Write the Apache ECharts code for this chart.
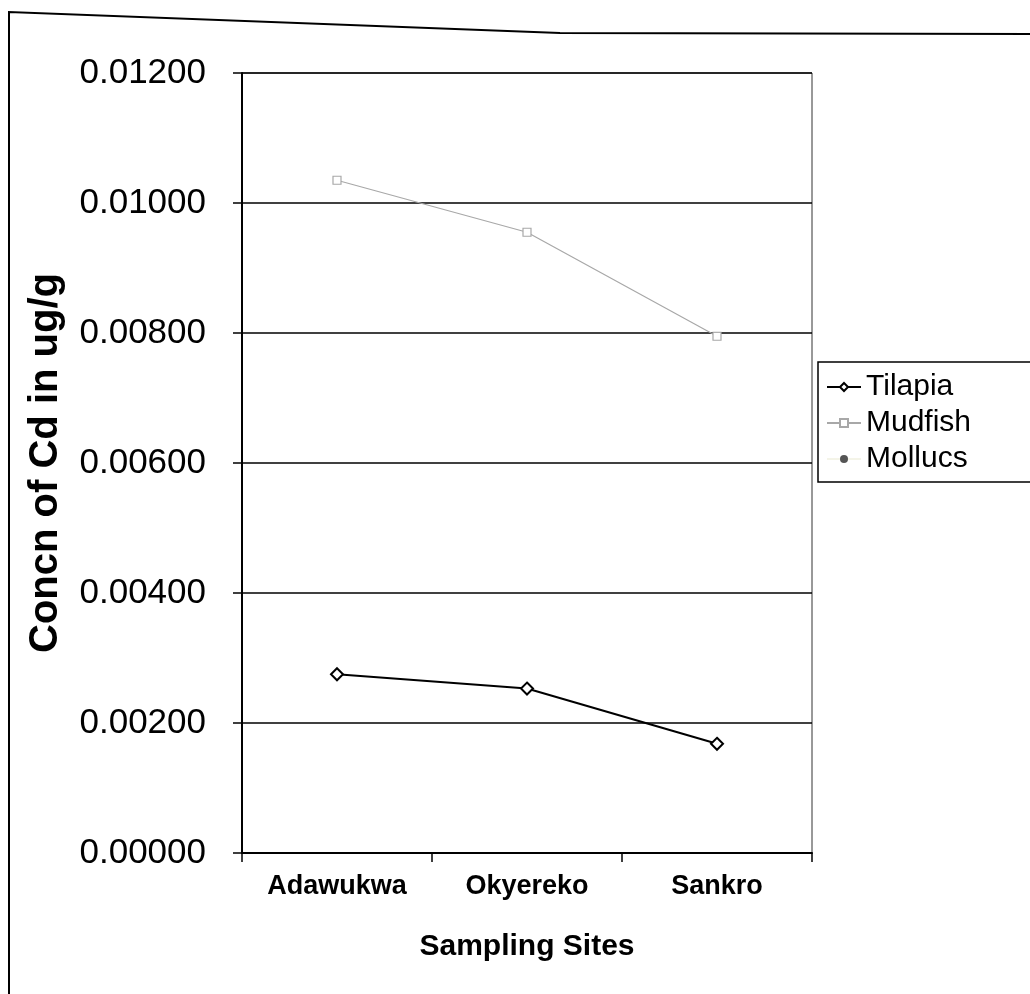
<!DOCTYPE html>
<html>
<head>
<meta charset="utf-8">
<script src="https://cdn.jsdelivr.net/npm/echarts@6/dist/echarts.min.js"></script>
<style>
html,body{margin:0;padding:0;background:#fff;}
#main{width:1030px;height:994px;}
</style>
</head>
<body>
<div id="main"></div>
<script>
var categories = ['Adawukwa', 'Okyereko', 'Sankro'];
var tilapia = [0.00275, 0.00253, 0.00168];
var mudfish = [0.01035, 0.00955, 0.00795];
var mollucs = [null, null, null];
var yTicks = [0, 0.002, 0.004, 0.006, 0.008, 0.010, 0.012];

var FONT = '"Liberation Sans", Arial, sans-serif';
var chart = echarts.init(document.getElementById('main'));
chart.setOption({
  backgroundColor: '#ffffff',
  animation: false,
  textStyle: { fontFamily: FONT, color: '#000' },
  grid: {
    left: 242, right: 218, top: 73, bottom: 141,
    show: true, borderColor: '#333', borderWidth: 1, backgroundColor: 'transparent'
  },
  graphic: [{
    type: 'polyline',
    shape: { points: [[9, 994], [9, 12], [560, 33], [1030, 34]] },
    style: { stroke: '#000', lineWidth: 2, fill: null }
  }],
  legend: {
    left: 818, top: 362,
    orient: 'vertical',
    borderColor: '#000', borderWidth: 1.5,
    padding: [10, 90, 8, 8],
    itemGap: 6,
    itemWidth: 34, itemHeight: 10,
    textStyle: { fontSize: 30, color: '#000', fontFamily: FONT },
    data: ['Tilapia', 'Mudfish', 'Mollucs']
  },
  xAxis: {
    type: 'category',
    data: categories,
    boundaryGap: true,
    axisLine: { lineStyle: { color: '#000', width: 2 } },
    axisTick: { show: true, length: 9, lineStyle: { color: '#000', width: 1.5 } },
    axisLabel: { fontSize: 27, fontWeight: 'bold', color: '#000', margin: 20, fontFamily: FONT },
    name: 'Sampling Sites',
    nameLocation: 'middle',
    nameGap: 79,
    nameTextStyle: { fontSize: 30, fontWeight: 'bold', color: '#000', fontFamily: FONT }
  },
  yAxis: {
    type: 'value',
    min: 0, max: 0.012, interval: 0.002,
    axisLine: { show: true, lineStyle: { color: '#000', width: 2 } },
    axisTick: { show: true, length: 9, lineStyle: { color: '#000', width: 1.5 } },
    axisLabel: {
      fontSize: 35, color: '#000', margin: 36, fontFamily: FONT,
      formatter: function (v) { return v.toFixed(5); }
    },
    splitLine: { show: true, lineStyle: { color: '#000', width: 1.5 } },
    name: 'Concn of Cd in ug/g',
    nameLocation: 'middle',
    nameRotate: 90,
    nameGap: 176,
    nameTextStyle: { fontSize: 40, fontWeight: 'bold', color: '#000', fontFamily: FONT }
  },
  series: [
    {
      name: 'Tilapia', type: 'line', data: tilapia,
      symbol: 'diamond', symbolSize: 12,
      lineStyle: { color: '#000', width: 2 },
      itemStyle: { color: '#fff', borderColor: '#000', borderWidth: 2 },
      z: 5
    },
    {
      name: 'Mudfish', type: 'line', data: mudfish,
      symbol: 'rect', symbolSize: 8,
      lineStyle: { color: '#a8a8a8', width: 1.2 },
      itemStyle: { color: '#fff', borderColor: '#a8a8a8', borderWidth: 1.2 },
      z: 4
    },
    {
      name: 'Mollucs', type: 'line', data: mollucs,
      symbol: 'circle', symbolSize: 3,
      lineStyle: { color: '#f4f4e8', width: 1 },
      itemStyle: { color: '#555', borderColor: '#555' },
      z: 3
    }
  ]
});
</script>
</body>
</html>
